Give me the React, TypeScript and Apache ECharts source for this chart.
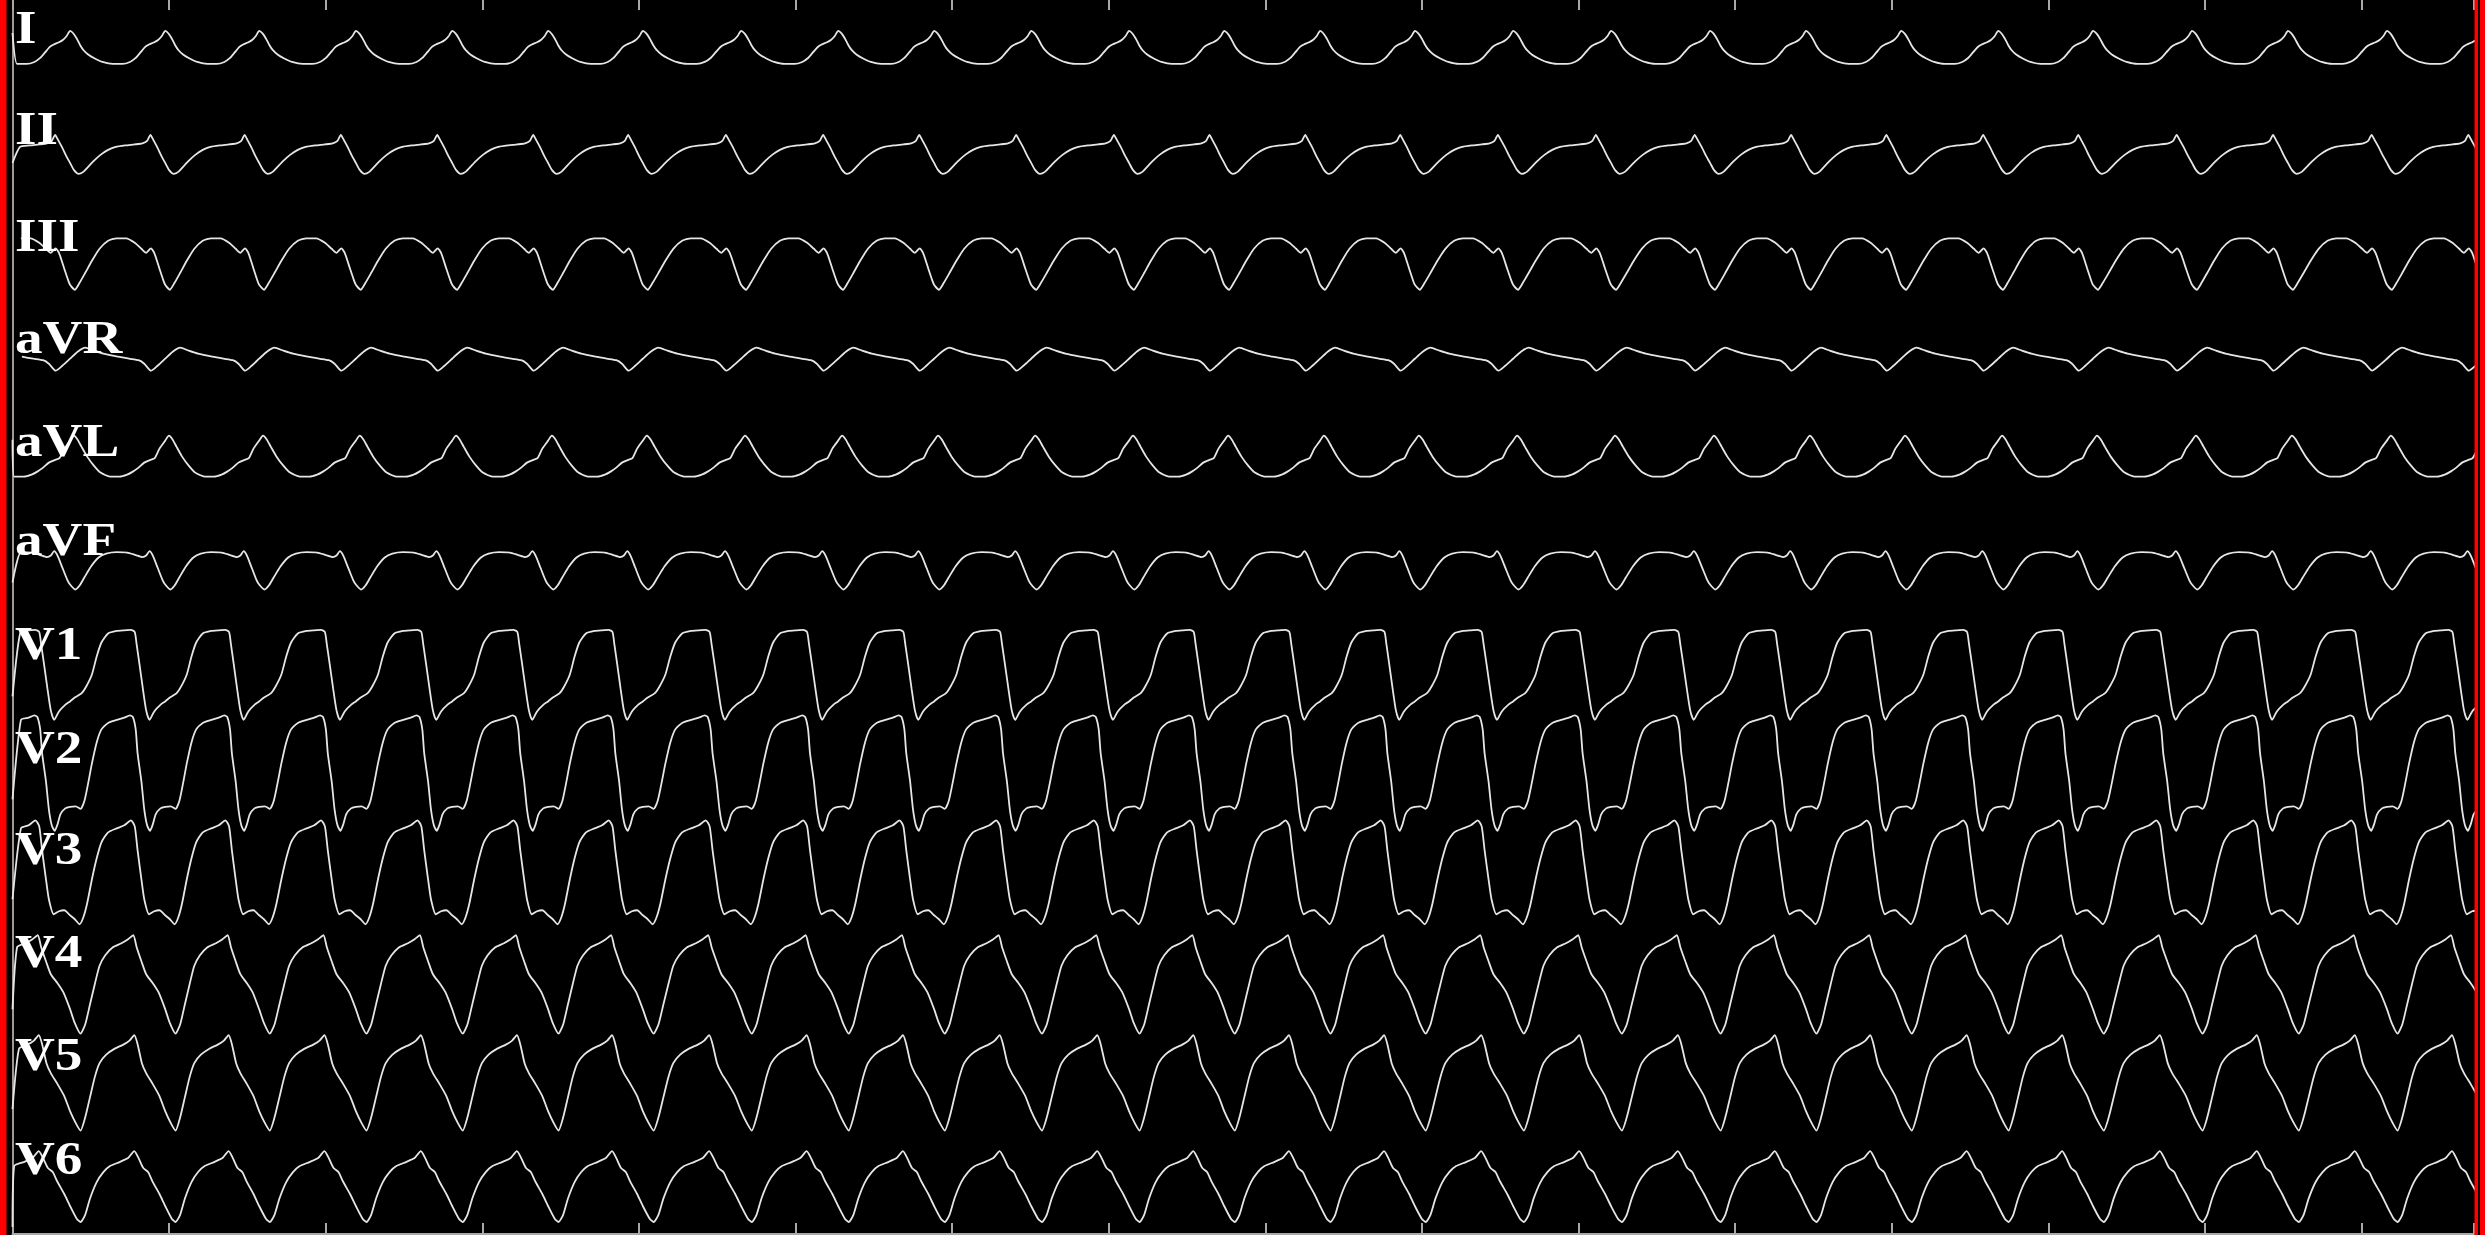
import React, { useEffect, useRef } from "react";
import * as echarts from "echarts";

// ---- data ----
const LEADS = ["I", "II", "III", "aVR", "aVL", "aVF", "V1", "V2", "V3", "V4", "V5", "V6"];

// time (s) of each lead-I peak; all 12 leads are simultaneous
const BEAT_TIMES = [
  -0.099, 0.147, 0.39, 0.63, 0.877, 1.123, 1.368, 1.61, 1.861, 2.109, 2.354, 2.602, 2.852,
  3.095, 3.34, 3.582, 3.833, 4.083, 4.336, 4.581, 4.824, 5.072, 5.314, 5.567, 5.812, 6.065, 6.311,
];

// one beat per lead: [phase within the beat (0..1), amplitude]
const BEAT_I = [[0, 19], [0.035, 16.5], [0.07, 11.5], [0.105, 5], [0.14, 0], [0.19, -4.5], [0.26, -8.5], [0.34, -12], [0.45, -14], [0.55, -14], [0.63, -12], [0.69, -8], [0.74, -2.5], [0.79, 3], [0.83, 5.5], [0.88, 7.5], [0.925, 10], [0.965, 14]];
const BEAT_II = [[0, -8], [0.04, -15], [0.09, -19], [0.14, -17], [0.19, -12], [0.25, -6], [0.32, 0], [0.4, 5], [0.48, 8], [0.58, 9.5], [0.68, 10.5], [0.76, 11.5], [0.81, 14], [0.845, 20], [0.875, 15], [0.92, 7], [0.96, -1]];
const BEAT_III = [[0, -20], [0.05, -25], [0.1, -18], [0.16, -8], [0.23, 4], [0.31, 16], [0.4, 24], [0.49, 26.5], [0.59, 26.5], [0.68, 22], [0.75, 16], [0.8, 12], [0.85, 16.5], [0.885, 12], [0.94, -4], [0.975, -14]];
const BEAT_AVR = [[0, 1], [0.08, 8], [0.16, 12], [0.25, 9], [0.35, 6], [0.5, 3], [0.62, 1], [0.72, -0.5], [0.78, -4], [0.85, -11], [0.92, -6]];
const BEAT_AVL = [[0, 19], [0.04, 24], [0.08, 20], [0.12, 13], [0.18, 3], [0.25, -6], [0.32, -13], [0.42, -17], [0.52, -17], [0.6, -15], [0.66, -12], [0.72, -8], [0.78, -3], [0.84, -0.5], [0.89, 1.5], [0.94, 11]];
const BEAT_AVF = [[0, -15], [0.055, -20], [0.1, -16], [0.15, -8], [0.22, 3], [0.3, 12], [0.38, 16], [0.49, 17.5], [0.6, 17], [0.69, 14.5], [0.76, 12.5], [0.8, 14], [0.835, 18.5], [0.87, 14], [0.92, 2], [0.97, -10]];
const BEAT_V1 = [[0, -22], [0.05, -18], [0.12, -14], [0.17, -7], [0.23, 5], [0.28, 23], [0.33, 37], [0.4, 46], [0.49, 48.5], [0.57, 49.2], [0.64, 49.6], [0.68, 47.5], [0.7, 35], [0.73, 15], [0.765, -9], [0.8, -31], [0.835, -40.5], [0.885, -32], [0.955, -25]];
const BEAT_V2 = [[0, -32.5], [0.06, -32], [0.11, -34.5], [0.15, -27], [0.19, -9], [0.23, 11], [0.28, 32], [0.33, 45], [0.4, 51.5], [0.49, 54.5], [0.57, 56.7], [0.63, 59], [0.66, 57.5], [0.69, 45], [0.71, 21], [0.75, -7], [0.78, -35], [0.81, -51], [0.84, -56.5], [0.87, -50], [0.9, -40], [0.95, -34]];
const BEAT_V3 = [[0, -41], [0.05, -45], [0.1, -50], [0.14, -43], [0.18, -29], [0.23, -5], [0.28, 16], [0.33, 32], [0.4, 42], [0.49, 46], [0.57, 49], [0.64, 54], [0.68, 48], [0.71, 24], [0.75, -5], [0.78, -25], [0.83, -40], [0.885, -37], [0.94, -36]];
const BEAT_V4 = [[0, -25], [0.05, -39], [0.11, -49.5], [0.16, -40], [0.21, -20], [0.26, 0], [0.31, 18.5], [0.37, 29], [0.45, 37], [0.54, 41], [0.61, 45], [0.665, 49], [0.7, 37], [0.75, 23], [0.8, 10], [0.87, 1], [0.93, -8]];
const BEAT_V5 = [[0, -27], [0.06, -39], [0.11, -46.5], [0.16, -33], [0.21, -13], [0.26, 7], [0.31, 21], [0.38, 29.5], [0.47, 35.5], [0.56, 39.5], [0.625, 43.5], [0.675, 49], [0.71, 40], [0.755, 21], [0.8, 11], [0.87, 0], [0.94, -12]];
const BEAT_V6 = [[0, -17], [0.07, -29.7], [0.11, -33], [0.16, -25.6], [0.21, -9.4], [0.28, 7], [0.35, 17], [0.42, 23], [0.52, 27], [0.61, 31], [0.675, 38], [0.72, 31], [0.77, 21], [0.82, 17], [0.87, 7], [0.94, -5]];
const BEATS = [BEAT_I, BEAT_II, BEAT_III, BEAT_AVR, BEAT_AVL, BEAT_AVF, BEAT_V1, BEAT_V2, BEAT_V3, BEAT_V4, BEAT_V5, BEAT_V6];

// level the trace jumps from at the very start of each lead
const START_MARK = [17, -8, null, null, 20, -13, -17, -25, -25, -25, -25, -38];

// ---- layout ----
const LEAD_BASE = [50, 155, 265, 360, 460, 570, 680, 775, 875, 985, 1085, 1190];
const LABEL_Y = [27.5, 129, 236, 337.5, 440.5, 540, 644, 747.5, 849, 952, 1055, 1158.5];
const W = 2485;
const H = 1235;
const GRID_LEFT = 12.5;
const GRID_RIGHT = 11;
const PX_PER_S = 391.5;
const X_MAX = (W - GRID_LEFT - GRID_RIGHT) / PX_PER_S;

function buildLead(k: number) {
  const tpl = BEATS[k];
  const base = LEAD_BASE[k];
  const pts: number[][] = [];
  for (let b = 0; b < BEAT_TIMES.length - 1; b++) {
    const t0 = BEAT_TIMES[b];
    const t1 = BEAT_TIMES[b + 1];
    for (const [ph, amp] of tpl) {
      const t = t0 + ph * (t1 - t0);
      if (t < 0.004) continue;
      pts.push([t, base - amp]);
    }
  }
  const m = START_MARK[k];
  if (m !== null && m !== undefined) pts.unshift([0, base - m]);
  return pts;
}

export default function App() {
  const ref = useRef<HTMLDivElement>(null);
  useEffect(() => {
    if (!ref.current) return;
    const chart = echarts.init(ref.current, undefined, { renderer: "svg" });
    const tickStyle = { color: "#a8a8a8", width: 2 };
    const graphics: any[] = [
      { type: "rect", shape: { x: 0, y: 0, width: 6.5, height: H }, style: { fill: "#ff0000" }, z: 100 },
      { type: "rect", shape: { x: 2474.5, y: 0, width: 3.5, height: H }, style: { fill: "#ff0000" }, z: 100 },
      { type: "rect", shape: { x: 2480, y: 0, width: 5, height: H }, style: { fill: "#ff0000" }, z: 100 },
    ];
    LEADS.forEach((name, k) => {
      graphics.push({
        type: "text",
        x: 15,
        y: LABEL_Y[k],
        scaleX: 1.2,
        z: 50,
        style: {
          text: name,
          fill: "#ffffff",
          font: 'bold 46px "Liberation Serif"',
          fontFamily: "Liberation Serif",
          fontWeight: "bold",
          fontSize: 46,
          textAlign: "left",
          textVerticalAlign: "middle",
          verticalAlign: "middle",
        },
      });
    });
    chart.setOption({
      animation: false,
      backgroundColor: "#000000",
      grid: { left: GRID_LEFT, right: GRID_RIGHT, top: 0, bottom: 1 },
      xAxis: [
        {
          type: "value",
          position: "bottom",
          min: 0,
          max: X_MAX,
          interval: 0.4,
          axisLine: { show: true, onZero: false, lineStyle: tickStyle },
          axisTick: { show: true, inside: true, length: 11, lineStyle: tickStyle },
          axisLabel: { show: false },
          splitLine: { show: false },
        },
        {
          type: "value",
          position: "top",
          min: 0,
          max: X_MAX,
          interval: 0.4,
          axisLine: { show: false, onZero: false },
          axisTick: { show: true, inside: true, length: 10, lineStyle: tickStyle },
          axisLabel: { show: false },
          splitLine: { show: false },
        },
      ],
      yAxis: {
        type: "value",
        min: 0,
        max: H,
        inverse: true,
        axisLine: { show: true, onZero: false, lineStyle: { color: "#9a9a9a", width: 2 } },
        axisTick: { show: false },
        axisLabel: { show: false },
        splitLine: { show: false },
      },
      series: LEADS.map((name, k) => ({
        name,
        type: "line",
        data: buildLead(k),
        showSymbol: false,
        smooth: 0.2,
        clip: true,
        lineStyle: { color: "#e6e6e6", width: 1.8 },
        silent: true,
      })),
      graphic: graphics,
    });
    return () => chart.dispose();
  }, []);
  return <div ref={ref} style={{ position: "fixed", left: 0, top: 0, width: W, height: H }} />;
}
